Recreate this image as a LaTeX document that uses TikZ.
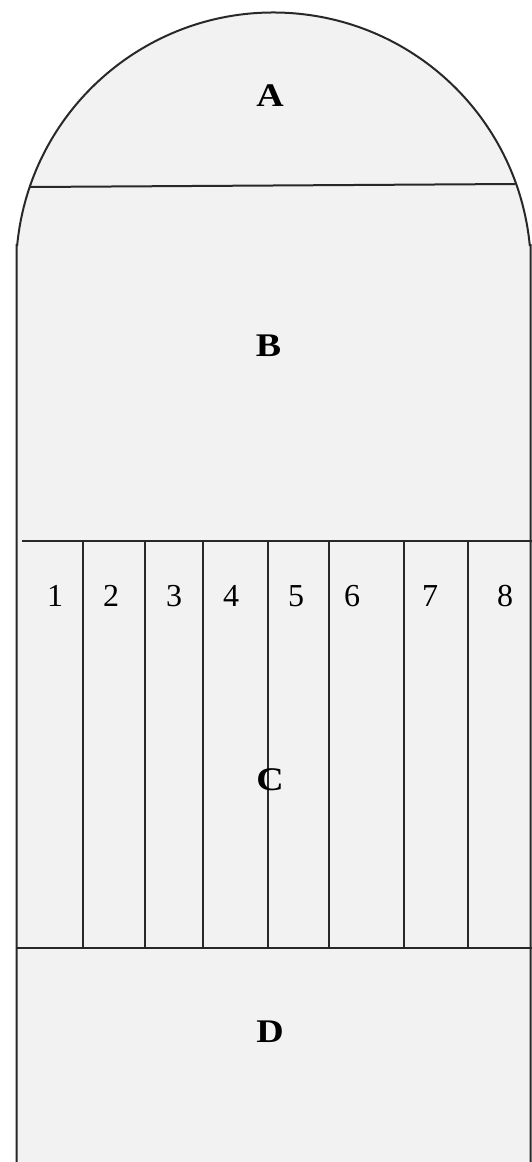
\documentclass[tikz,border=0pt]{standalone}
\usepackage{fontspec}
\usepackage{graphicx}
\setmainfont{Liberation Serif}
\definecolor{shellfill}{RGB}{242,242,242}
\definecolor{edge}{RGB}{40,40,40}
\newcommand{\widen}[1]{\scalebox{1.15}[1]{#1}}
\tikzset{
  divider/.style={draw=edge, line width=2pt},
  zonelabel/.style={inner sep=0pt, font=\fontsize{33}{38}\selectfont\bfseries},
  cellnum/.style={inner sep=0pt, font=\fontsize{32}{38}\selectfont},
}
\begin{document}
\begin{tikzpicture}[x=1pt,y=-1pt]
\useasboundingbox (0,0) rectangle (532,1162);
% outer shell (open at the bottom)
\fill[shellfill] (16.5,1170) -- (16.5,245) -- (17.2,245) arc[start angle=185.57, end angle=354.43, radius=257.5] -- (530.5,245) -- (530.5,1170) -- cycle;
\draw[divider] (16.5,1170) -- (16.5,245) -- (17.2,245) arc[start angle=185.57, end angle=354.43, radius=257.5] -- (530.5,245) -- (530.5,1170);
% horizontal dividers
\coordinate (ab1) at (30,187);
\coordinate (ab2) at (515,184);
\coordinate (bc1) at (22,541);
\coordinate (bc2) at (532,541);
\coordinate (cd1) at (16.5,948);
\coordinate (cd2) at (532,948);
\draw[divider] (ab1) -- (ab2);
\draw[divider] (bc1) -- (bc2);
\draw[divider] (cd1) -- (cd2);
% vertical cell dividers
\foreach \x [count=\i] in {82.5,144.6,202.6,267.7,328.8,403.8,467.6} {
  \coordinate (vt\i) at (\x,541);
  \coordinate (vb\i) at (\x,948);
  \draw[divider] (vt\i) -- (vb\i);
}
% zone labels
\node[zonelabel] (A) at (270,96) {\widen{A}};
\node[zonelabel] (B) at (268.5,346) {\widen{B}};
\node[zonelabel] (C) at (270,780) {\widen{C}};
\node[zonelabel] (D) at (270,1032) {\widen{D}};
% cell numbers
\foreach \x [count=\i] in {55,111,174,231,296,352,430,505} {
  \node[cellnum] (n\i) at (\x,596) {\i};
}
\end{tikzpicture}
\end{document}
